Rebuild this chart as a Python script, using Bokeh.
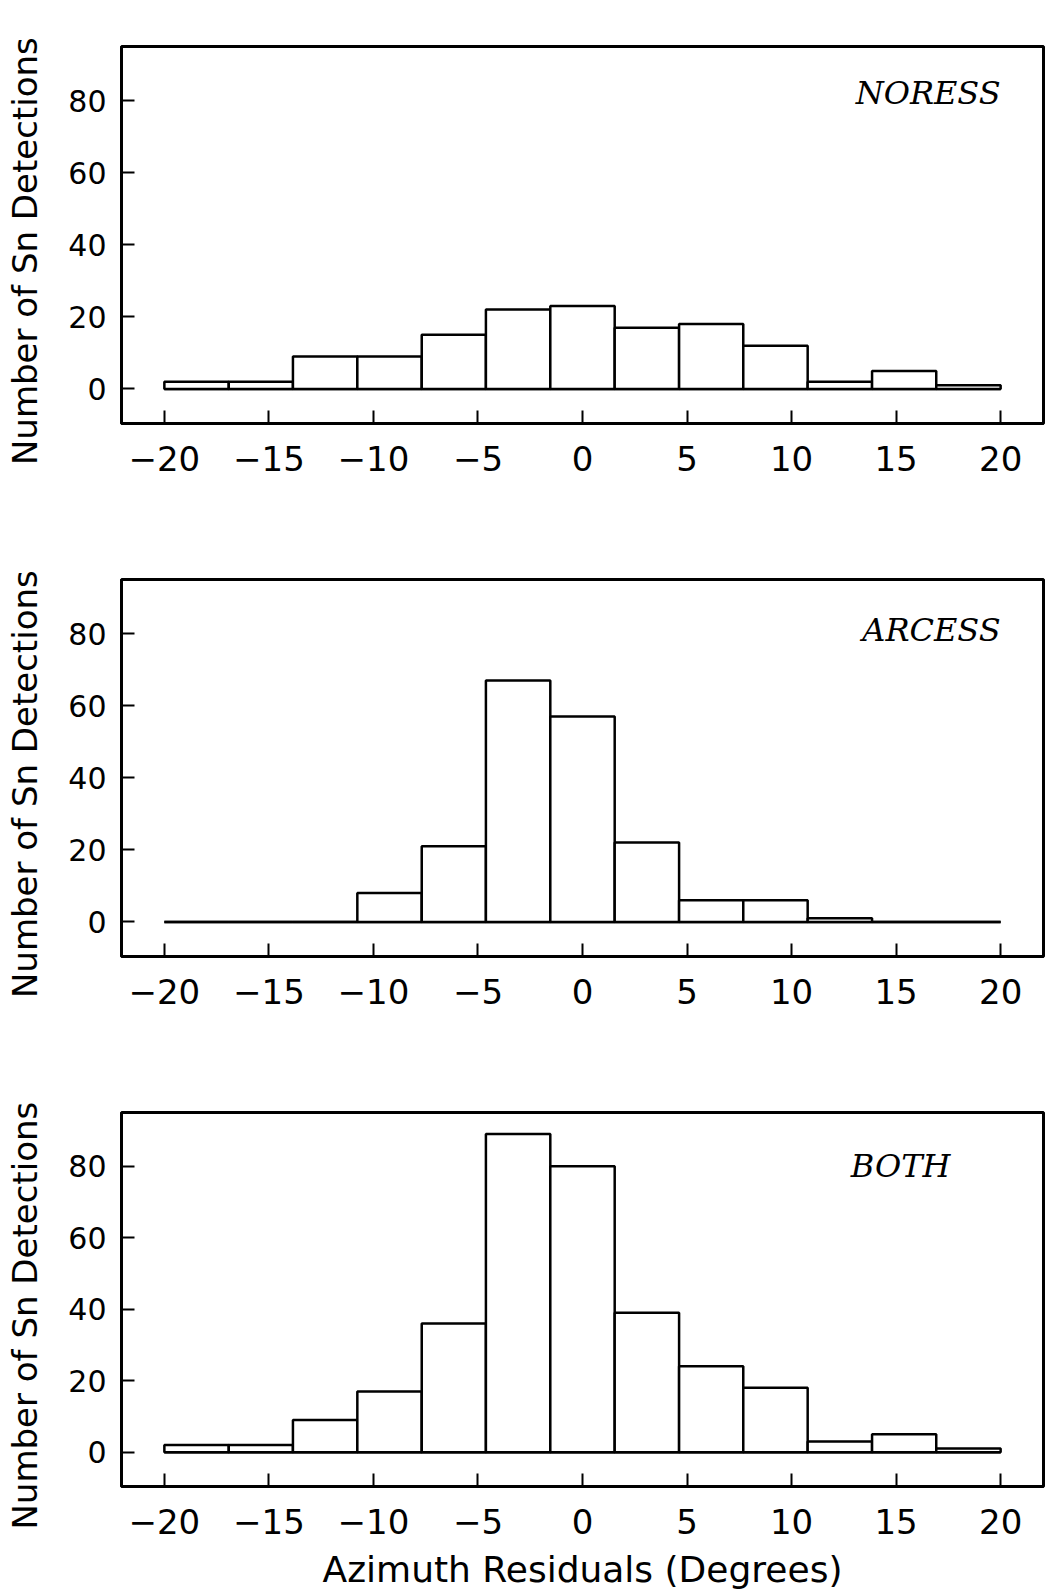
from bokeh.plotting import figure
from bokeh.layouts import column
from bokeh.models import FixedTicker, Range1d
from bokeh.core.properties import value
from bokeh.embed import file_html
from bokeh.resources import INLINE

# ---- data ----
bin_edges = [-20.0, -16.92, -13.85, -10.77, -7.69, -4.62, -1.54, 1.54, 4.62, 7.69, 10.77, 13.85, 16.92, 20.0]
noress = [2, 2, 9, 9, 15, 22, 23, 17, 18, 12, 2, 5, 1]
arcess = [0, 0, 0, 8, 21, 67, 57, 22, 6, 6, 1, 0, 0]
both = [2, 2, 9, 17, 36, 89, 80, 39, 24, 18, 3, 5, 1]
station_names = ["NORESS", "ARCESS", "BOTH"]
x_ticks = [-20, -15, -10, -5, 0, 5, 10, 15, 20]
x_tick_labels = ["\u221220", "\u221215", "\u221210", "\u22125", "0", "5", "10", "15", "20"]
y_ticks = [0, 20, 40, 60, 80]
y_tick_labels = ["0", "20", "40", "60", "80"]
y_label = "Number  of  Sn  Detections"
x_label = "Azimuth Residuals (Degrees)"

# ---- layout constants ----
fig_heights = [500, 533, 559]
top_borders = [46, 79, 79]
frame_h = 377
left_borders = [117, 119, 121]
right_borders = [4, 2, 1]
name_pos = [(20.0, 82.0), (20.0, 81.0), (17.6, 80.0)]

series = [noress, arcess, both]
figs = []
for i, counts in enumerate(series):
    h = fig_heights[i]
    p = figure(width=1047, height=h, output_backend="svg", toolbar_location=None, tools="",
               x_range=Range1d(-22.05, 22.05), y_range=Range1d(-9.6, 95),
               min_border_left=left_borders[i], min_border_right=right_borders[i],
               min_border_top=top_borders[i], min_border_bottom=h - top_borders[i] - frame_h,
               background_fill_color="white", border_fill_color="white")
    p.xgrid.grid_line_color = None
    p.ygrid.grid_line_color = None
    p.outline_line_color = "black"
    p.outline_line_width = 3
    p.outline_line_alpha = 1.0

    p.line(x=[bin_edges[0], bin_edges[-1]], y=[0, 0], line_color="black", line_width=2.5)
    p.quad(left=bin_edges[:-1], right=bin_edges[1:], bottom=0, top=counts,
           fill_color="white", line_color="black", line_width=2.5)

    nx, ny = name_pos[i]
    p.text(x=[nx], y=[ny], text=[station_names[i]], text_align="right", text_baseline="alphabetic",
           text_font=value("DejaVu Serif"), text_font_style="italic", text_font_size="32px",
           text_color="black")

    xa = p.xaxis[0]
    xa.ticker = FixedTicker(ticks=x_ticks)
    xa.major_label_overrides = {t: l for t, l in zip(x_ticks, x_tick_labels)}
    xa.minor_tick_line_color = None
    xa.major_tick_in = 13
    xa.major_tick_out = 0
    xa.major_tick_line_width = 2
    xa.major_tick_line_color = "black"
    xa.axis_line_width = 3
    xa.axis_line_color = "black"
    xa.major_label_text_font = "DejaVu Sans"
    xa.major_label_text_font_size = "34px"
    xa.major_label_text_color = "black"
    xa.major_label_standoff = 22
    if i == 2:
        xa.axis_label = x_label
        xa.axis_label_text_font = "DejaVu Sans"
        xa.axis_label_text_font_size = "36px"
        xa.axis_label_text_font_style = "normal"
        xa.axis_label_text_color = "black"
        xa.axis_label_standoff = 12

    ya = p.yaxis[0]
    ya.ticker = FixedTicker(ticks=y_ticks)
    ya.major_label_overrides = {t: l for t, l in zip(y_ticks, y_tick_labels)}
    ya.minor_tick_line_color = None
    ya.major_tick_in = 13
    ya.major_tick_out = 0
    ya.major_tick_line_width = 2
    ya.major_tick_line_color = "black"
    ya.axis_line_width = 3
    ya.axis_line_color = "black"
    ya.major_label_text_font = "DejaVu Sans"
    ya.major_label_text_font_size = "30px"
    ya.major_label_text_color = "black"
    ya.major_label_standoff = 15
    ya.axis_label = y_label
    ya.axis_label_text_font = "DejaVu Sans"
    ya.axis_label_text_font_size = "34px"
    ya.axis_label_text_font_style = "normal"
    ya.axis_label_text_color = "black"
    ya.axis_label_standoff = 20
    figs.append(p)

layout = column(*figs, spacing=0)
open("out.html", "w").write(file_html(layout, INLINE))
